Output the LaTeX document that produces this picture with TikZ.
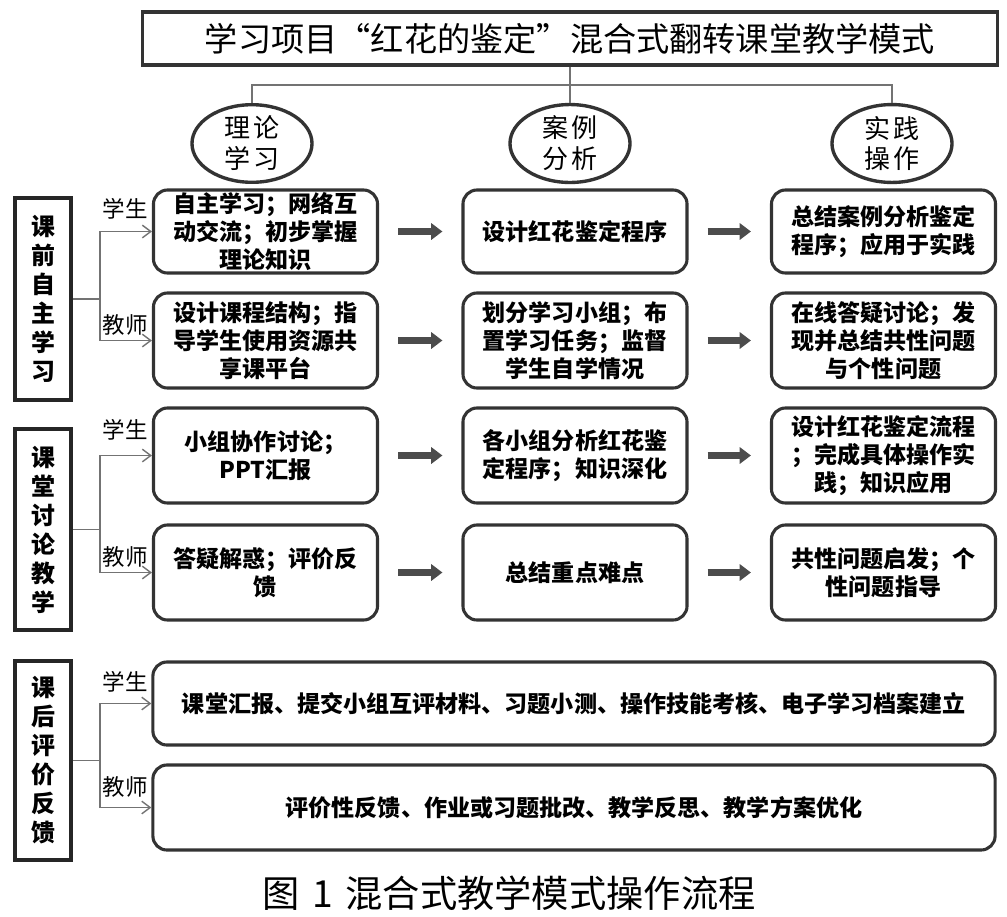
\documentclass[tikz,border=0pt]{standalone}
\usepackage{fontspec}
\setmainfont{Noto Sans CJK SC}
\usetikzlibrary{arrows.meta,shapes.geometric,positioning}

\tikzset{
  head/.style={draw=black!80, line width=2.2pt, minimum width=21.35cm, minimum height=1.325cm, inner sep=0pt, font=\fontsize{23.6}{28}\selectfont},
  stage/.style={draw=black!80, line width=2.4pt, ellipse, minimum width=3cm, minimum height=1.825cm, inner sep=0pt, align=center, font=\fontsize{18.5}{22}\selectfont},
  phase/.style={draw=black!85, line width=2.8pt, minimum width=1.4cm, inner sep=0pt, align=center, font=\bfseries\fontsize{17}{20.6}\selectfont},
  box/.style={draw=black!80, line width=2.2pt, rounded corners=10pt, minimum width=5.6cm, minimum height=#1, inner sep=0pt, align=center, font=\bfseries\fontsize{16.4}{20}\selectfont},
  wide/.style={box=#1, minimum width=21.05cm},
  who/.style={font=\fontsize{16}{18}\selectfont, inner sep=0pt},
  link/.style={draw=black!55, line width=1pt},
  branch/.style={link, -{Straight Barb[length=6pt,width=9pt]}},
  fat/.style={draw=black!70, line width=4.5pt, -{Triangle[length=8pt,width=11.5pt]}, shorten <=13.5pt, shorten >=13.5pt}
}

\begin{document}
\begin{tikzpicture}[x=0.025cm, y=-0.025cm]
\useasboundingbox (0,0) rectangle (1007,916);

\node[head] (title) at (570,38.5) {学习项目“红花的鉴定”混合式翻转课堂教学模式};
\node[stage] (t1) at (252,143.5) {理\hspace{2pt}论\\学\hspace{2pt}习};
\node[stage] (t2) at (570,143.5) {案\hspace{2pt}例\\分\hspace{2pt}析};
\node[stage] (t3) at (892,143.5) {实\hspace{2pt}践\\操\hspace{2pt}作};
\coordinate (hub) at (570,85);
\draw[link] (title) -- (hub) -- (t2);
\draw[link] (hub) -| (t1);
\draw[link] (hub) -| (t3);

% stages
\node[phase, minimum height=5.05cm] (p1) at (43,299) {课\\前\\自\\主\\学\\习};
\node[phase, minimum height=5.02cm] (p2) at (43,529.5) {课\\堂\\讨\\论\\教\\学};
\node[phase, minimum height=4.97cm] (p3) at (43,760.5) {课\\后\\评\\价\\反\\馈};

\node[box=2.075cm] (a1) at (265.5,231.5) {自主学习；网络互\\动交流；初步掌握\\理论知识};
\node[box=2.075cm] (a2) at (575,231.5) {设计红花鉴定程序};
\node[box=2.075cm] (a3) at (883.5,231.5) {总结案例分析鉴定\\程序；应用于实践};
\node[box=2.375cm] (b1) at (265.5,340.5) {设计课程结构；指\\导学生使用资源共\\享课平台};
\node[box=2.375cm] (b2) at (575,340.5) {划分学习小组；布\\置学习任务；监督\\学生自学情况};
\node[box=2.375cm] (b3) at (883.5,340.5) {在线答疑讨论；发\\现并总结共性问题\\与个性问题};
\node[box=2.375cm] (c1) at (265.5,455.5) {小组协作讨论；\\PPT汇报};
\node[box=2.375cm] (c2) at (575,455.5) {各小组分析红花鉴\\定程序；知识深化};
\node[box=2.375cm] (c3) at (883.5,455.5) {设计红花鉴定流程\\；完成具体操作实\\践；知识应用};
\node[box=2.375cm] (d1) at (265.5,572.5) {答疑解惑；评价反\\馈};
\node[box=2.375cm] (d2) at (575,572.5) {总结重点难点};
\node[box=2.375cm] (d3) at (883.5,572.5) {共性问题启发；个\\性问题指导};
\node[wide=2.075cm] (e) at (574,703.5) {课堂汇报、提交小组互评材料、习题小测、操作技能考核、电子学习档案建立};
\node[wide=2.125cm] (f) at (574,807.5) {评价性反馈、作业或习题批改、教学反思、教学方案优化};

\node[who] (s1) at (125,209) {学生};
\node[who] (j1) at (125,325) {教师};
\node[who] (s2) at (125,430) {学生};
\node[who] (j2) at (125,557) {教师};
\node[who] (s3) at (125,682) {学生};
\node[who] (j3) at (125,787) {教师};

\coordinate (k1) at (100,299);
\coordinate (k2) at (100,529.5);
\coordinate (k3) at (100,760.5);
\draw[link] (p1) -- (k1);
\draw[link] (p2) -- (k2);
\draw[link] (p3) -- (k3);
\draw[branch] (k1) |- (a1);
\draw[branch] (k1) |- (b1);
\draw[branch] (k2) |- (c1);
\draw[branch] (k2) |- (d1);
\draw[branch] (k3) |- (e);
\draw[branch] (k3) |- (f);

\draw[fat] (a1) -- (a2);
\draw[fat] (a2) -- (a3);
\draw[fat] (b1) -- (b2);
\draw[fat] (b2) -- (b3);
\draw[fat] (c1) -- (c2);
\draw[fat] (c2) -- (c3);
\draw[fat] (d1) -- (d2);
\draw[fat] (d2) -- (d3);

\node[font=\fontsize{26.5}{30}\selectfont] (cap) at (509,893) {图\hspace{9pt}1\hspace{9pt}混合式教学模式操作流程};
\end{tikzpicture}
\end{document}
